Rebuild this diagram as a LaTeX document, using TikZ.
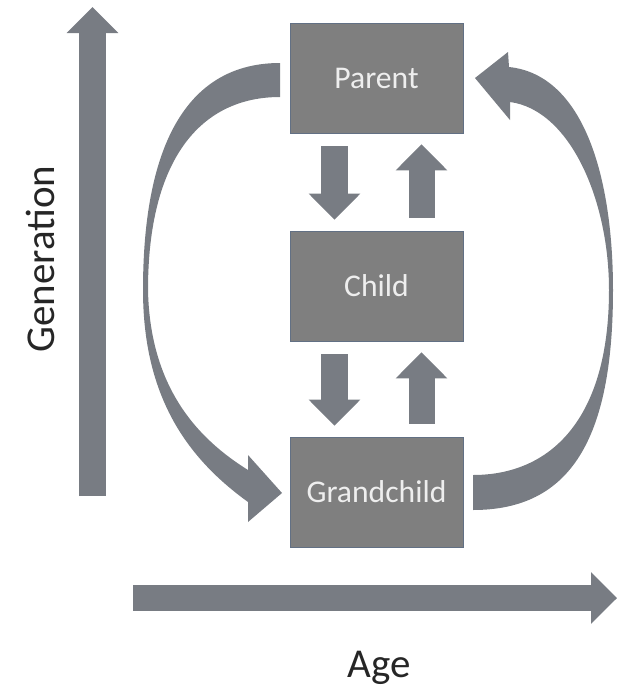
\documentclass[tikz,border=0pt]{standalone}
\usepackage{fontspec}
\setmainfont{Carlito}
\usetikzlibrary{arrows.meta}
\definecolor{boxgray}{RGB}{127,127,127}
\definecolor{boxedge}{RGB}{98,112,132}
\definecolor{arrowgray}{RGB}{120,124,131}
\definecolor{boxtext}{RGB}{238,238,238}
\begin{document}
\begin{tikzpicture}[x=0.03cm, y=-0.03cm, every node/.style={align=center},
  genbox/.style={draw=boxedge, line width=0.6pt, fill=boxgray, text=boxtext, minimum width=5.19cm, minimum height=3.3cm, font=\fontsize{27}{32}\selectfont},
  blockarrow/.style={draw=arrowgray, line width=0.78cm, -{Triangle[length=0.78cm 0, width=1.55cm 0, line width=0pt]}},
  gap/.style={shorten <=0.39cm, shorten >=0.33cm},
  axislabel/.style={text=black!85, font=\fontsize{35}{42}\selectfont}]
\useasboundingbox (0,0) rectangle (617,689);

\node[genbox] at (376.5,78) (parent) {Parent};
\node[genbox] at (376.5,286) (child) {Child};
\node[genbox] at (376.5,492) (grand) {Grandchild};

\draw[blockarrow, gap] ([xshift=-1.26cm]parent.south) -- ([xshift=-1.26cm]child.north);
\draw[blockarrow, gap] ([xshift=1.35cm]child.north) -- ([xshift=1.35cm]parent.south);
\draw[blockarrow, gap] ([xshift=-1.26cm]child.south) -- ([xshift=-1.26cm]grand.north);
\draw[blockarrow, gap] ([xshift=1.35cm]grand.north) -- ([xshift=1.35cm]child.south);

% parent -> grandchild, round the left
\fill[arrowgray] (280,63) .. controls (190,63) and (143,140) .. (143,290)
  .. controls (143,400) and (190,460) .. (248,502)
  -- (248,522) -- (282,493) -- (248,455) -- (248,470)
  .. controls (200,440) and (150,390) .. (148,290)
  .. controls (148,160) and (200,97) .. (280,97) -- cycle;
% grandchild -> parent, round the right
\fill[arrowgray] (473,510) .. controls (570,510) and (613,440) .. (613,290)
  .. controls (613,180) and (585,75) .. (509,67)
  -- (508,52) -- (475,78) -- (510,120) -- (510,102)
  .. controls (570,110) and (609,200) .. (609,290)
  .. controls (609,420) and (550,475) .. (473,475) -- cycle;

\coordinate (genlow) at (92.5,496);
\coordinate (genhigh) at (92.5,7);
\coordinate (ageleft) at (133,598);
\coordinate (ageright) at (617,598);
\draw[blockarrow] (genlow) -- (genhigh);
\draw[blockarrow] (ageleft) -- (ageright);

\node[axislabel, rotate=90] at (40,259) (genlabel) {Generation};
\node[axislabel, anchor=base] at (379,677) (agelabel) {Age};
\end{tikzpicture}
\end{document}
